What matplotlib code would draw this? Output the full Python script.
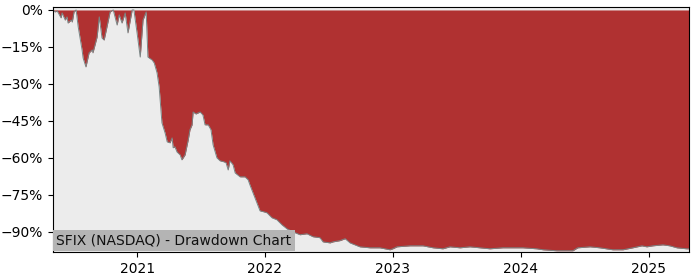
import numpy as np
import pandas as pd
import matplotlib
matplotlib.use("Agg")
import matplotlib.pyplot as plt
import matplotlib.dates as mdates
from matplotlib.ticker import FuncFormatter

# drawdown of SFIX (percent below running peak)
dates = [
    "2020-05-06", "2020-05-12", "2020-05-18", "2020-05-29", "2020-06-01", "2020-06-10",
    "2020-06-15", "2020-06-18", "2020-06-27", "2020-06-30", "2020-07-05", "2020-07-11",
    "2020-07-17", "2020-07-28", "2020-07-31", "2020-08-08", "2020-08-17", "2020-08-26",
    "2020-08-28", "2020-09-09", "2020-09-15", "2020-09-23", "2020-09-29", "2020-10-07",
    "2020-10-16", "2020-10-25", "2020-11-05", "2020-11-11", "2020-11-19", "2020-11-28",
    "2020-12-06", "2020-12-18", "2020-12-23", "2021-01-01", "2021-01-10", "2021-01-18",
    "2021-01-27", "2021-02-01", "2021-02-13", "2021-02-19", "2021-02-27", "2021-03-05",
    "2021-03-13", "2021-03-22", "2021-03-28", "2021-04-05", "2021-04-11", "2021-04-14",
    "2021-04-19", "2021-04-25", "2021-05-04", "2021-05-09", "2021-05-18", "2021-05-27",
    "2021-06-01", "2021-06-07", "2021-06-10", "2021-06-18", "2021-06-30", "2021-07-08",
    "2021-07-14", "2021-07-23", "2021-07-31", "2021-08-06", "2021-08-17", "2021-08-26",
    "2021-09-06", "2021-09-12", "2021-09-18", "2021-09-23", "2021-10-02", "2021-10-08",
    "2021-10-22", "2021-11-05", "2021-11-14", "2021-11-19", "2021-11-28", "2021-12-09",
    "2021-12-18", "2021-12-29", "2022-01-07", "2022-01-21", "2022-02-04", "2022-02-19",
    "2022-03-05", "2022-03-22", "2022-04-11", "2022-05-01", "2022-05-18", "2022-06-07",
    "2022-06-16", "2022-07-06", "2022-07-14", "2022-08-03", "2022-08-18", "2022-09-01",
    "2022-09-15", "2022-09-29", "2022-10-28", "2022-11-25", "2022-12-24", "2023-01-01",
    "2023-01-13", "2023-02-19", "2023-03-28", "2023-04-26", "2023-05-24", "2023-06-13",
    "2023-07-12", "2023-08-09", "2023-09-07", "2023-10-05", "2023-11-11", "2023-12-10",
    "2024-01-07", "2024-02-16", "2024-03-05", "2024-04-13", "2024-05-29", "2024-06-12",
    "2024-07-17", "2024-08-14", "2024-09-20", "2024-10-19", "2024-11-16", "2024-12-12",
    "2024-12-26", "2025-01-12", "2025-02-10", "2025-03-02", "2025-03-22", "2025-04-19",
    "2025-04-25",
]
drawdown = [
    0.0, -0.8, -0.4, -3.2, -1.2, -4.1,
    -2.8, -5.3, -4.1, -4.9, -0.8, 0.0,
    -6.9, -16.2, -19.5, -23.1, -17.4, -16.2,
    -17.4, -10.9, -2.8, -11.4, -12.2, -6.9,
    -0.8, 0.0, -6.1, -2.0, -5.3, -1.2,
    -9.3, 0.0, 0.0, -9.3, -19.1, -4.1,
    -0.8, -19.1, -20.3, -21.5, -25.5, -31.2,
    -45.8, -49.9, -53.5, -53.9, -51.9, -55.9,
    -55.5, -57.6, -58.8, -60.8, -58.8, -52.7,
    -48.6, -46.6, -41.4, -42.2, -41.4, -42.6,
    -46.6, -46.6, -48.6, -54.7, -60.0, -61.2,
    -61.6, -62.0, -64.9, -61.2, -62.8, -66.1,
    -67.7, -67.7, -68.9, -70.9, -74.2, -78.2,
    -81.5, -81.9, -82.3, -84.3, -85.1, -87.2,
    -88.8, -90.0, -91.2, -90.8, -92.0, -92.4,
    -94.1, -94.5, -94.1, -93.6, -92.8, -94.5,
    -95.3, -96.1, -96.5, -96.5, -97.3, -96.9,
    -96.1, -95.7, -95.7, -96.5, -96.9, -96.1,
    -96.5, -96.1, -96.5, -96.9, -96.5, -96.5,
    -96.5, -96.9, -97.3, -97.7, -97.7, -96.5,
    -96.1, -96.5, -97.3, -97.3, -96.5, -95.7,
    -96.1, -95.7, -95.3, -95.7, -96.5, -96.9,
    -96.9,
]
label = "SFIX (NASDAQ) - Drawdown Chart"

x = pd.to_datetime(dates)
y = np.array(drawdown)

fig = plt.figure(figsize=(7, 2.8), dpi=100, facecolor="white")
ax = fig.add_axes([0.0757, 0.1, 0.9083, 0.875])
ax.set_facecolor("#ececec")

ax.fill_between(x, y, 0, color="#b03131", linewidth=0)
ax.plot(x, y, color="#7a8585", linewidth=0.7)

ax.set_xlim(pd.Timestamp("2020-05-06"), pd.Timestamp("2025-04-25"))
ax.set_ylim(-98.2, 1.2)
ax.set_yticks([0, -15, -30, -45, -60, -75, -90])
ax.yaxis.set_major_formatter(FuncFormatter(lambda v, _: f"{v:.0f}%".replace("-", "\u2212")))
ax.xaxis.set_major_locator(mdates.YearLocator())
ax.xaxis.set_major_formatter(mdates.DateFormatter("%Y"))
ax.tick_params(labelsize=10)

ax.text(0.005, 0.018, label, transform=ax.transAxes, fontsize=10, color="#111111",
        ha="left", va="bottom",
        bbox=dict(facecolor="#b4b4b4", edgecolor="none", pad=2.5))

fig.savefig("out.png", dpi=100)
